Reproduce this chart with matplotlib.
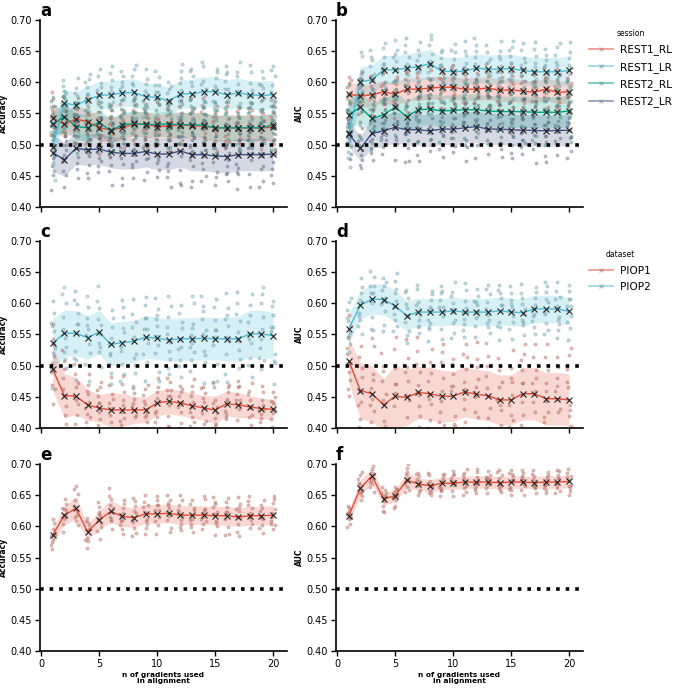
import numpy as np
import matplotlib.pyplot as plt
from matplotlib.lines import Line2D

plt.rcParams['font.family'] = ['DejaVu Sans']

'''数据'''
n_grad = list(range(1, 21))

sessions = ['REST1_RL', 'REST1_LR', 'REST2_RL', 'REST2_LR']
datasets = ['PIOP1', 'PIOP2']
colors = ['#E64B35', '#4DBBD5', '#00A087', '#3C5488']

# panel a: HCP accuracy
a_rest1_rl = [0.542, 0.533, 0.541, 0.537, 0.527, 0.524, 0.527, 0.533, 0.533, 0.529,
              0.530, 0.532, 0.530, 0.530, 0.527, 0.527, 0.527, 0.527, 0.527, 0.528]
a_rest1_lr = [0.497, 0.567, 0.563, 0.572, 0.579, 0.580, 0.583, 0.584, 0.577, 0.576,
              0.570, 0.581, 0.582, 0.585, 0.585, 0.580, 0.583, 0.580, 0.579, 0.580]
a_rest2_rl = [0.533, 0.545, 0.529, 0.527, 0.536, 0.522, 0.532, 0.534, 0.532, 0.533,
              0.533, 0.532, 0.532, 0.531, 0.527, 0.527, 0.527, 0.527, 0.527, 0.532]
a_rest2_lr = [0.487, 0.476, 0.494, 0.492, 0.493, 0.488, 0.486, 0.486, 0.489, 0.485,
              0.485, 0.490, 0.484, 0.484, 0.482, 0.481, 0.484, 0.484, 0.484, 0.485]
a_sd_rest1_rl = [0.022, 0.021, 0.021, 0.020, 0.020, 0.021, 0.020, 0.020, 0.020, 0.020,
                 0.020, 0.020, 0.021, 0.021, 0.021, 0.021, 0.021, 0.021, 0.021, 0.021]
a_sd_rest1_lr = [0.030, 0.022, 0.022, 0.022, 0.022, 0.022, 0.022, 0.022, 0.022, 0.022,
                 0.022, 0.023, 0.023, 0.024, 0.024, 0.024, 0.024, 0.023, 0.023, 0.023]
a_sd_rest2_rl = [0.022, 0.022, 0.021, 0.021, 0.020, 0.020, 0.020, 0.020, 0.020, 0.020,
                 0.020, 0.020, 0.020, 0.020, 0.020, 0.020, 0.020, 0.020, 0.020, 0.020]
a_sd_rest2_lr = [0.030, 0.027, 0.026, 0.025, 0.025, 0.025, 0.025, 0.025, 0.025, 0.025,
                 0.025, 0.026, 0.026, 0.026, 0.026, 0.026, 0.026, 0.026, 0.026, 0.026]

# panel b: HCP AUC
b_rest1_rl = [0.581, 0.578, 0.580, 0.585, 0.581, 0.589, 0.589, 0.591, 0.592, 0.592,
              0.589, 0.589, 0.591, 0.587, 0.588, 0.586, 0.584, 0.589, 0.584, 0.585]
b_rest1_lr = [0.518, 0.601, 0.604, 0.620, 0.620, 0.623, 0.625, 0.630, 0.618, 0.617,
              0.618, 0.623, 0.621, 0.621, 0.622, 0.619, 0.617, 0.617, 0.617, 0.619]
b_rest2_rl = [0.548, 0.560, 0.542, 0.548, 0.560, 0.545, 0.556, 0.557, 0.554, 0.555,
              0.556, 0.556, 0.554, 0.553, 0.553, 0.553, 0.552, 0.552, 0.552, 0.554]
b_rest2_lr = [0.517, 0.494, 0.518, 0.522, 0.528, 0.524, 0.524, 0.522, 0.525, 0.525,
              0.527, 0.529, 0.525, 0.525, 0.524, 0.523, 0.523, 0.522, 0.523, 0.523]
b_sd_rest1_rl = [0.020, 0.018, 0.018, 0.018, 0.018, 0.018, 0.018, 0.018, 0.018, 0.018,
                 0.018, 0.018, 0.018, 0.018, 0.018, 0.018, 0.018, 0.018, 0.018, 0.018]
b_sd_rest1_lr = [0.030, 0.024, 0.024, 0.023, 0.023, 0.023, 0.023, 0.023, 0.023, 0.023,
                 0.023, 0.023, 0.023, 0.023, 0.023, 0.023, 0.023, 0.023, 0.023, 0.023]
b_sd_rest2_rl = [0.024, 0.024, 0.025, 0.025, 0.025, 0.025, 0.025, 0.025, 0.025, 0.025,
                 0.025, 0.025, 0.025, 0.025, 0.025, 0.025, 0.025, 0.025, 0.025, 0.025]
b_sd_rest2_lr = [0.020, 0.020, 0.024, 0.025, 0.025, 0.025, 0.025, 0.025, 0.025, 0.025,
                 0.025, 0.025, 0.025, 0.025, 0.025, 0.025, 0.025, 0.025, 0.025, 0.025]

# panel c: PIOP accuracy
c_piop1 = [0.494, 0.452, 0.451, 0.437, 0.432, 0.429, 0.429, 0.429, 0.429, 0.440,
           0.443, 0.440, 0.436, 0.432, 0.429, 0.439, 0.437, 0.434, 0.431, 0.430]
c_piop2 = [0.536, 0.552, 0.552, 0.545, 0.554, 0.534, 0.537, 0.539, 0.546, 0.544,
           0.541, 0.543, 0.543, 0.544, 0.543, 0.543, 0.543, 0.551, 0.551, 0.548]
c_sd_piop1 = [0.035, 0.035, 0.030, 0.025, 0.022, 0.028, 0.026, 0.022, 0.020, 0.020,
              0.020, 0.020, 0.020, 0.020, 0.022, 0.020, 0.020, 0.018, 0.017, 0.016]
c_sd_piop2 = [0.040, 0.037, 0.036, 0.035, 0.035, 0.035, 0.034, 0.034, 0.034, 0.034,
              0.034, 0.034, 0.034, 0.034, 0.034, 0.035, 0.036, 0.038, 0.038, 0.037]

# panel d: PIOP AUC
d_piop1 = [0.508, 0.460, 0.455, 0.437, 0.451, 0.449, 0.457, 0.455, 0.451, 0.451,
           0.458, 0.454, 0.452, 0.445, 0.445, 0.455, 0.455, 0.447, 0.447, 0.445]
d_piop2 = [0.559, 0.597, 0.607, 0.606, 0.596, 0.580, 0.586, 0.586, 0.586, 0.588,
           0.586, 0.586, 0.586, 0.588, 0.586, 0.585, 0.591, 0.591, 0.591, 0.587]
d_sd_piop1 = [0.035, 0.045, 0.045, 0.042, 0.050, 0.045, 0.042, 0.042, 0.042, 0.040,
              0.040, 0.040, 0.040, 0.040, 0.040, 0.042, 0.042, 0.042, 0.042, 0.042]
d_sd_piop2 = [0.025, 0.022, 0.024, 0.025, 0.025, 0.024, 0.022, 0.022, 0.022, 0.022,
              0.022, 0.022, 0.022, 0.022, 0.022, 0.022, 0.022, 0.022, 0.022, 0.022]

# panel e/f: single dataset
e_acc = [0.586, 0.618, 0.629, 0.591, 0.610, 0.624, 0.616, 0.614, 0.620, 0.620,
         0.621, 0.618, 0.618, 0.618, 0.617, 0.617, 0.615, 0.617, 0.617, 0.618]
e_sd = [0.012, 0.015, 0.018, 0.012, 0.015, 0.018, 0.016, 0.016, 0.015, 0.015,
        0.015, 0.015, 0.015, 0.015, 0.015, 0.015, 0.015, 0.015, 0.015, 0.015]
f_auc = [0.617, 0.661, 0.681, 0.644, 0.649, 0.674, 0.668, 0.665, 0.669, 0.669,
         0.671, 0.671, 0.671, 0.670, 0.671, 0.671, 0.670, 0.671, 0.671, 0.672]
f_sd = [0.010, 0.013, 0.012, 0.010, 0.010, 0.012, 0.010, 0.010, 0.010, 0.010,
        0.010, 0.010, 0.010, 0.010, 0.010, 0.010, 0.010, 0.010, 0.010, 0.010]

# fold-level deviations (in sd units) and horizontal jitter for the grey points
fold_z = [-1.2, 0.4, 1.9, -0.3, 0.9, -2.0, 0.1, 1.4, -0.7, 0.6,
          -1.6, 1.1, -0.1, 2.1, -0.9, 0.3, -0.5, 1.6, -1.3, 0.8,
          0.0, -1.8, 1.2, -0.4, 0.5, -1.0, 1.7, -0.2, 0.7, -1.5,
          2.0, -0.6, 0.2, -1.1, 1.3, -0.8, 0.9, -2.1, 0.4, 1.5]
fold_jit = [-0.18, 0.05, -0.08, 0.15, -0.02, 0.1, -0.14, 0.02, 0.18, -0.05]

'''画图'''
fig = plt.figure(figsize=(6.83, 6.88), dpi=100)
lefts = [40 / 683, 336 / 683]
bottoms = [1 - 207 / 688, 1 - 428 / 688, 1 - 651 / 688]
w, h = 247 / 683, 187 / 688

panels = [
    ('a', 'Accuracy', [a_rest1_rl, a_rest1_lr, a_rest2_rl, a_rest2_lr],
     [a_sd_rest1_rl, a_sd_rest1_lr, a_sd_rest2_rl, a_sd_rest2_lr], colors),
    ('b', 'AUC', [b_rest1_rl, b_rest1_lr, b_rest2_rl, b_rest2_lr],
     [b_sd_rest1_rl, b_sd_rest1_lr, b_sd_rest2_rl, b_sd_rest2_lr], colors),
    ('c', 'Accuracy', [c_piop1, c_piop2], [c_sd_piop1, c_sd_piop2], colors[:2]),
    ('d', 'AUC', [d_piop1, d_piop2], [d_sd_piop1, d_sd_piop2], colors[:2]),
    ('e', 'Accuracy', [e_acc], [e_sd], colors[:1]),
    ('f', 'AUC', [f_auc], [f_sd], colors[:1]),
]

x = np.array(n_grad)
fz = np.array(fold_z)
axes = []
for k, (lab, ylab, means, sds, cols) in enumerate(panels):
    row, col = k // 2, k % 2
    ax = fig.add_axes([lefts[col], bottoms[row], w, h])
    axes.append(ax)
    for j, (m, s, c) in enumerate(zip(means, sds, cols)):
        m, s = np.array(m), np.array(s)
        ax.fill_between(x, m - s, m + s, color=c, alpha=0.22, lw=0)
        for i in range(len(x)):
            idx = (7 * i + 13 * j + 3 * k + np.arange(len(fold_jit))) % len(fz)
            ax.scatter(x[i] + np.array(fold_jit), m[i] + fz[idx] * s[i], s=5,
                       color=c, edgecolors='grey', linewidths=0.6, alpha=0.4, zorder=2)
        ax.plot(x, m, color=c, lw=1, marker='x', ms=4.5, mec='#222222', mew=0.8, zorder=3)
    ax.axhline(0.5, color='black', ls=':', lw=2.6, zorder=4)
    ax.set_xlim(-0.1, 21.2)
    ax.set_ylim(0.4, 0.7)
    ax.set_yticks(np.arange(0.40, 0.701, 0.05))
    ax.set_yticklabels(['%.2f' % v for v in np.arange(0.40, 0.701, 0.05)])
    ax.set_xticks([0, 5, 10, 15, 20])
    ax.tick_params(labelsize=7, width=1, length=3.5, pad=2.5)
    if row < 2:
        ax.set_xticklabels([])
    else:
        ax.set_xlabel('n of gradients used\nin alignment', fontsize=5.3,
                      fontweight='bold', labelpad=2, linespacing=1.0)
    ax.set_ylabel(ylab, fontsize=5.5, fontweight='bold')
    ax.yaxis.set_label_coords(-0.13, 0.5)
    for sp in ['top', 'right']:
        ax.spines[sp].set_visible(False)
    for sp in ['left', 'bottom']:
        ax.spines[sp].set_linewidth(1.2)
    ax.text(0.0, 1.02, lab, transform=ax.transAxes, fontsize=12, fontweight='bold',
            ha='left', va='baseline')

'''图例'''
def make_handles(cols):
    return [Line2D([], [], color=c, lw=1.2, alpha=0.6, marker='x', ms=3,
                   mec='grey', mew=0.7) for c in cols]

lg1 = axes[1].legend(make_handles(colors), sessions, title='session',
                     loc='upper left', bbox_to_anchor=(0.995, 0.99), frameon=False,
                     fontsize=7.6, title_fontsize=5.5, labelspacing=0.6,
                     handlelength=2.3, handletextpad=0.6, borderaxespad=0.3)
lg2 = axes[3].legend(make_handles(colors[:2]), datasets, title='dataset',
                     loc='upper left', bbox_to_anchor=(0.995, 0.99), frameon=False,
                     fontsize=7.6, title_fontsize=5.5, labelspacing=0.6,
                     handlelength=2.3, handletextpad=0.6, borderaxespad=0.3)

plt.savefig('out.png', dpi=100)
